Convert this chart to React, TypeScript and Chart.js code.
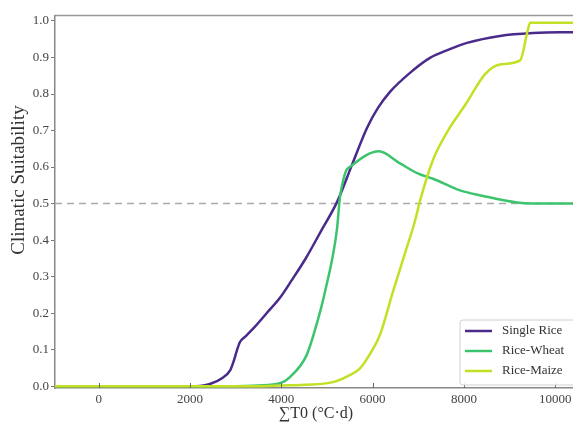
import React, { useEffect, useRef } from "react";
import { Chart, registerables } from "chart.js";

Chart.register(...registerables);

// ---- data ----
const seriesLabels = ["Single Rice", "Rice-Wheat", "Rice-Maize"];
const seriesColors = ["#4a2a8a", "#3cc46c", "#c3e024"];

const riceX = [-1000, 2000, 2219, 2438, 2701, 2883, 2964, 3030, 3095, 3205, 3424, 3687, 3971, 4234, 4541, 4885, 5220, 5549, 5877, 6118, 6381, 6819, 7257, 7695, 8068, 8791, 9514, 10105, 12000];
const riceY = [0, 0, 0.0005, 0.006, 0.022, 0.044, 0.071, 0.099, 0.121, 0.135, 0.163, 0.201, 0.242, 0.291, 0.351, 0.428, 0.504, 0.606, 0.707, 0.762, 0.806, 0.858, 0.899, 0.923, 0.94, 0.959, 0.967, 0.969, 0.969];

const wheatX = [-1000, 3000, 3500, 3970, 4190, 4555, 4775, 4960, 5215, 5285, 5350, 5420, 5500, 6140, 6600, 7000, 7325, 7915, 8420, 9160, 9500, 12000];
const wheatY = [0, 0, 0.002, 0.008, 0.025, 0.085, 0.17, 0.26, 0.425, 0.517, 0.56, 0.59, 0.6, 0.643, 0.61, 0.582, 0.568, 0.536, 0.521, 0.503, 0.5, 0.5];

const maizeX = [-1000, 3500, 4000, 4500, 5135, 5500, 5720, 6000, 6160, 6450, 6700, 6930, 7040, 7325, 7620, 8060, 8460, 8790, 9230, 9400, 9450, 12000];
const maizeY = [0, 0, 0.002, 0.004, 0.011, 0.03, 0.048, 0.1, 0.14, 0.26, 0.36, 0.453, 0.508, 0.62, 0.693, 0.776, 0.854, 0.881, 0.892, 0.975, 0.995, 0.995];

const refLineY = 0.5;
const xTicks = [0, 2000, 4000, 6000, 8000, 10000];
const yTicks = [0, 0.1, 0.2, 0.3, 0.4, 0.5, 0.6, 0.7, 0.8, 0.9, 1.0];
const xTitle = "∑T0 (°C·d)";
const yTitle = "Climatic Suitability";

const X_MIN = -957;
const X_MAX = 11858;
const Y_MIN = -0.005;
const Y_MAX = 1.015;

const FONT = "'Liberation Serif', 'Times New Roman', serif";

const toPts = (xs: number[], ys: number[]) => xs.map((x, i) => ({ x, y: ys[i] }));

const decor = {
  id: "decor",
  afterDatasetsDraw(chart: any) {
    const { ctx, chartArea, scales } = chart;
    ctx.save();
    ctx.strokeStyle = "#999";
    ctx.lineWidth = 1.5;
    ctx.beginPath();
    ctx.moveTo(chartArea.left, chartArea.top);
    ctx.lineTo(chartArea.right, chartArea.top);
    ctx.stroke();
    ctx.strokeStyle = "#666";
    ctx.lineWidth = 1;
    for (const v of xTicks) {
      const px = Math.round(scales.x.getPixelForValue(v)) + 0.5;
      ctx.beginPath();
      ctx.moveTo(px, chartArea.bottom);
      ctx.lineTo(px, chartArea.bottom - 5);
      ctx.stroke();
    }
    ctx.restore();
  },
  afterDraw(chart: any) {
    const { ctx } = chart;
    ctx.save();
    const bx = 460, by = 320, bw = 260, bh = 65, r = 3;
    ctx.beginPath();
    ctx.moveTo(bx + r, by);
    ctx.lineTo(bx + bw - r, by);
    ctx.arcTo(bx + bw, by, bx + bw, by + r, r);
    ctx.lineTo(bx + bw, by + bh - r);
    ctx.arcTo(bx + bw, by + bh, bx + bw - r, by + bh, r);
    ctx.lineTo(bx + r, by + bh);
    ctx.arcTo(bx, by + bh, bx, by + bh - r, r);
    ctx.lineTo(bx, by + r);
    ctx.arcTo(bx, by, bx + r, by, r);
    ctx.closePath();
    ctx.fillStyle = "rgba(255,255,255,0.85)";
    ctx.fill();
    ctx.strokeStyle = "#d0d0d0";
    ctx.lineWidth = 1;
    ctx.stroke();
    seriesLabels.forEach((lab, i) => {
      const y = 331 + i * 20;
      ctx.strokeStyle = seriesColors[i];
      ctx.lineWidth = 2.5;
      ctx.beginPath();
      ctx.moveTo(465, y);
      ctx.lineTo(492, y);
      ctx.stroke();
      ctx.fillStyle = "#333";
      ctx.font = `13px ${FONT}`;
      ctx.textBaseline = "middle";
      ctx.textAlign = "left";
      ctx.fillText(lab, 502, y);
    });
    ctx.fillStyle = "#333";
    ctx.font = `16px ${FONT}`;
    ctx.textAlign = "center";
    ctx.textBaseline = "middle";
    ctx.fillText(xTitle, 316, 414);
    ctx.translate(19, 180);
    ctx.rotate(-Math.PI / 2);
    ctx.font = `19px ${FONT}`;
    ctx.fillText(yTitle, 0, 0);
    ctx.restore();
  },
};

export default function App() {
  const ref = useRef<HTMLCanvasElement | null>(null);
  useEffect(() => {
    document.body.style.margin = "0";
    if (!ref.current) return;
    const line = (i: number, pts: any[], order: number) => ({
      label: seriesLabels[i],
      data: pts,
      borderColor: seriesColors[i],
      backgroundColor: seriesColors[i],
      borderWidth: 2.5,
      pointRadius: 0,
      showLine: true,
      fill: false,
      cubicInterpolationMode: "monotone" as const,
      order,
    });
    const chart = new Chart(ref.current, {
      type: "scatter",
      data: {
        datasets: [
          {
            label: "ref",
            data: [
              { x: X_MIN, y: refLineY },
              { x: X_MAX, y: refLineY },
            ],
            borderColor: "#aaaaaa",
            borderWidth: 1.5,
            borderDash: [7, 5],
            pointRadius: 0,
            showLine: true,
            order: 10,
          } as any,
          line(0, toPts(riceX, riceY), 3),
          line(1, toPts(wheatX, wheatY), 2),
          line(2, toPts(maizeX, maizeY), 1),
        ],
      },
      options: {
        responsive: false,
        animation: false,
        devicePixelRatio: 1,
        layout: { padding: { top: 15.5, right: 20, left: 0, bottom: 0 } },
        plugins: { legend: { display: false }, tooltip: { enabled: false } },
        scales: {
          x: {
            type: "linear",
            min: X_MIN,
            max: X_MAX,
            afterFit: (s: any) => {
              s.height = 36;
            },
            afterBuildTicks: (s: any) => {
              s.ticks = xTicks.map((v) => ({ value: v }));
            },
            grid: { display: false, drawTicks: false },
            border: { display: true, color: "#888", width: 1.5 },
            ticks: {
              color: "#444",
              font: { family: FONT, size: 13 },
              padding: 4,
              maxRotation: 0,
              autoSkip: false,
              callback: (v: any) => String(v),
            },
          },
          y: {
            type: "linear",
            min: Y_MIN,
            max: Y_MAX,
            afterFit: (s: any) => {
              s.width = 55;
            },
            afterBuildTicks: (s: any) => {
              s.ticks = yTicks.map((v) => ({ value: v }));
            },
            grid: { display: true, drawOnChartArea: false, drawTicks: true, tickLength: 4, color: "#777" },
            border: { display: true, color: "#888", width: 1.5 },
            ticks: {
              color: "#444",
              font: { family: FONT, size: 13 },
              padding: 2,
              autoSkip: false,
              callback: (v: any) => Number(v).toFixed(1),
            },
          },
        },
      },
      plugins: [decor],
    });
    return () => chart.destroy();
  }, []);
  return (
    <div style={{ position: "fixed", left: 0, top: 0, width: 573, height: 424, overflow: "hidden", background: "#fff" }}>
      <canvas ref={ref} width={660} height={424} style={{ width: 660, height: 424, display: "block" }} />
    </div>
  );
}
